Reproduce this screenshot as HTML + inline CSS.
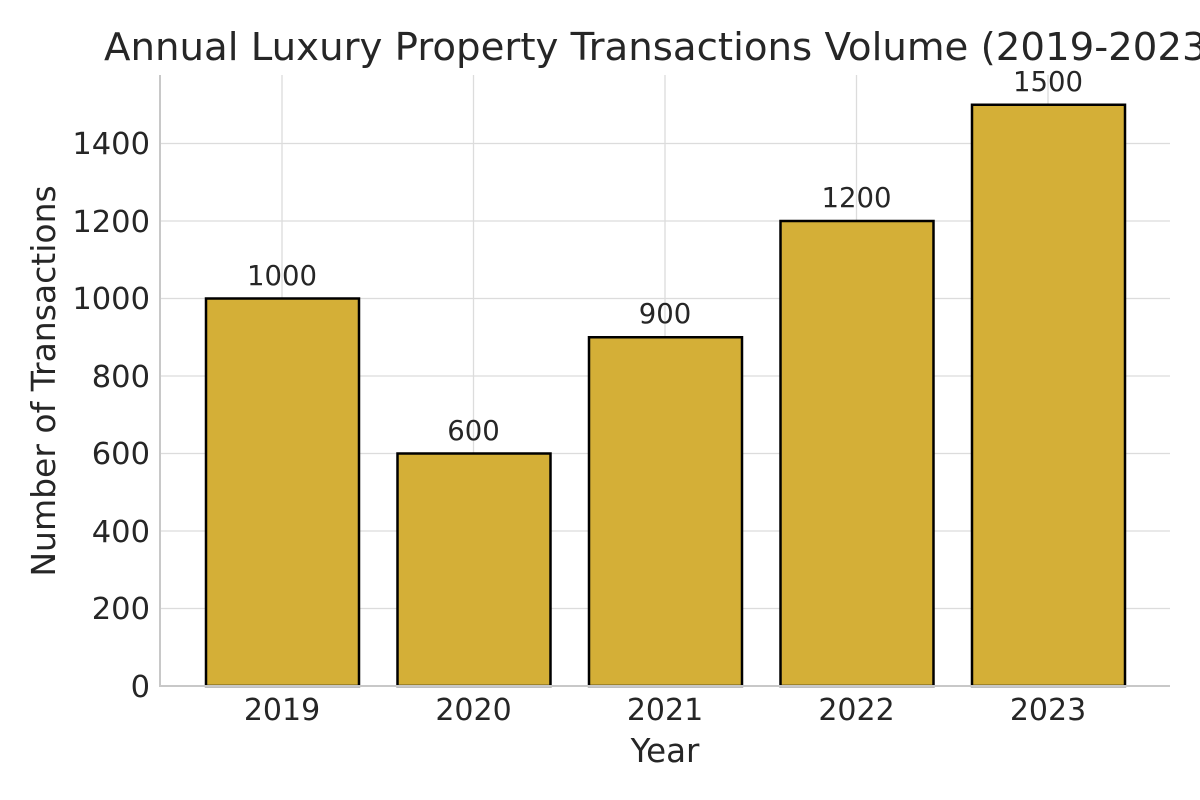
<!DOCTYPE html>
<html><head><meta charset="utf-8"><style>
body{margin:0;background:#fff;}
svg{display:block;font-family:"DejaVu Sans","Liberation Sans",sans-serif;}
</style></head><body>
<svg width="1200" height="800" viewBox="0 0 1200 800">
<rect width="1200" height="800" fill="#fff"/>
<g stroke="#dcdcdc" stroke-width="1.3">
<line x1="160" x2="1170" y1="608.5" y2="608.5"/>
<line x1="160" x2="1170" y1="531" y2="531"/>
<line x1="160" x2="1170" y1="453.5" y2="453.5"/>
<line x1="160" x2="1170" y1="376" y2="376"/>
<line x1="160" x2="1170" y1="298.5" y2="298.5"/>
<line x1="160" x2="1170" y1="221" y2="221"/>
<line x1="160" x2="1170" y1="143.5" y2="143.5"/>
<line x1="282" x2="282" y1="75" y2="686"/>
<line x1="473.5" x2="473.5" y1="75" y2="686"/>
<line x1="665" x2="665" y1="75" y2="686"/>
<line x1="856.5" x2="856.5" y1="75" y2="686"/>
<line x1="1048" x2="1048" y1="75" y2="686"/>
</g>
<g fill="#D4AF37" stroke="#000" stroke-width="2.5">
<rect x="206" y="298.5" width="153" height="387.5"/>
<rect x="397.5" y="453.5" width="153" height="232.5"/>
<rect x="589" y="337.25" width="153" height="348.75"/>
<rect x="780.5" y="221" width="153" height="465"/>
<rect x="972" y="104.75" width="153" height="581.25"/>
</g>
<g stroke="#c8c8c8" stroke-width="2">
<line x1="160" x2="160" y1="75" y2="687"/>
<line x1="159" x2="1170" y1="686" y2="686"/>
</g>
<g fill="#262626" font-size="27.5" text-anchor="middle">
<text x="282" y="285">1000</text>
<text x="473.5" y="440">600</text>
<text x="665" y="323">900</text>
<text x="856.5" y="207">1200</text>
<text x="1048" y="91">1500</text>
</g>
<g fill="#262626" font-size="30.5" text-anchor="end">
<text x="150" y="697">0</text>
<text x="150" y="619">200</text>
<text x="150" y="542">400</text>
<text x="150" y="464">600</text>
<text x="150" y="387">800</text>
<text x="150" y="309">1000</text>
<text x="150" y="232">1200</text>
<text x="150" y="154">1400</text>
</g>
<g fill="#262626" font-size="30" text-anchor="middle">
<text x="282" y="720">2019</text>
<text x="473.5" y="720">2020</text>
<text x="665" y="720">2021</text>
<text x="856.5" y="720">2022</text>
<text x="1048" y="720">2023</text>
<text x="665" y="762" font-size="32.5">Year</text>
</g>
<text transform="translate(55,381) rotate(-90)" fill="#262626" font-size="33" text-anchor="middle">Number of Transactions</text>
<text x="104" y="60" fill="#262626" font-size="38.7">Annual Luxury Property Transactions Volume (2019-2023)</text>
</svg>
</body></html>
